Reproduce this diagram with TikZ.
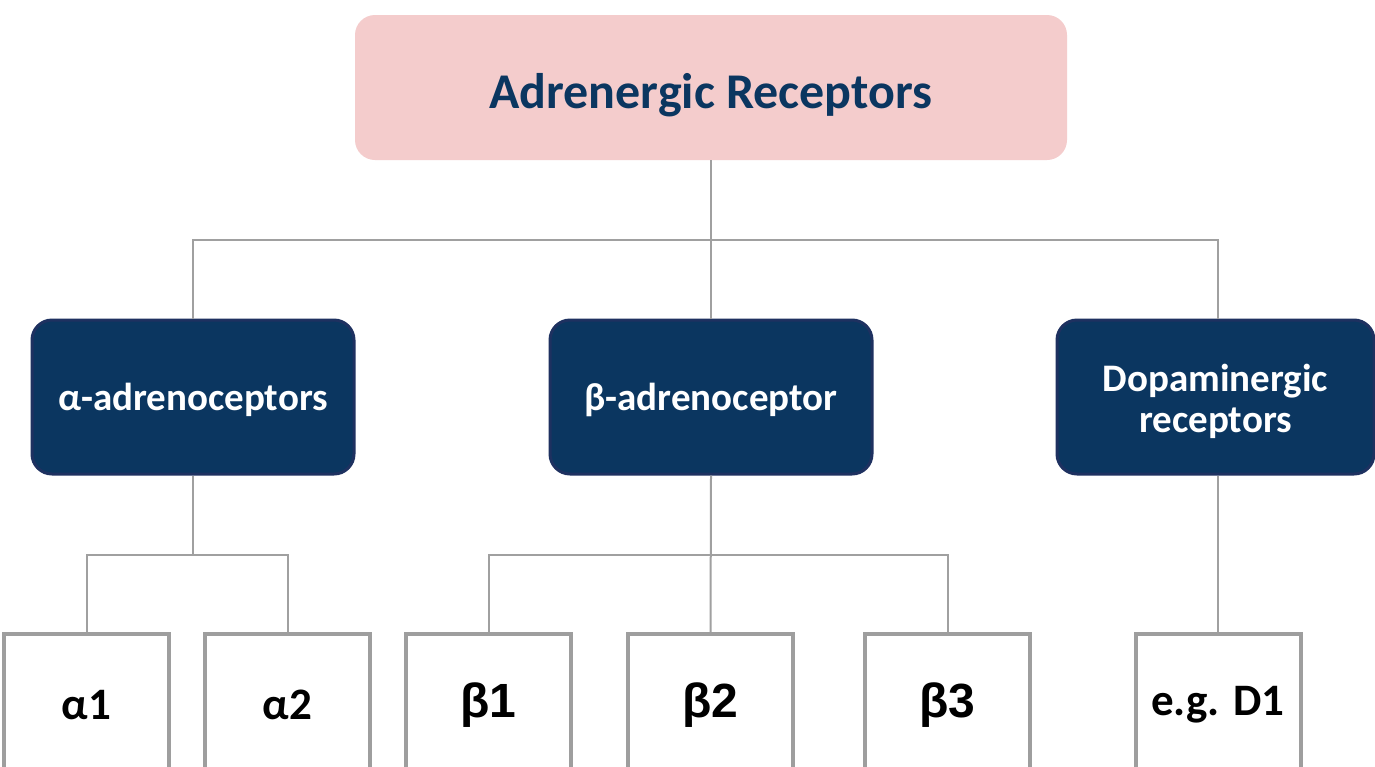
\documentclass[tikz,border=0pt]{standalone}
\usepackage{fontspec}
\setmainfont{Carlito}
\newfontfamily\arialish{Liberation Sans}
\definecolor{navy}{HTML}{0B3660}
\definecolor{navyedge}{HTML}{1E3160}
\definecolor{blush}{HTML}{F4CCCC}
\definecolor{wire}{HTML}{A0A0A0}
\definecolor{frame}{HTML}{9E9E9E}
\tikzset{
  rootbox/.style={rounded corners=10pt, fill=blush, draw=none,
    minimum width=356pt, minimum height=72.5pt,
    text height=20.5pt, text depth=0pt,
    text=navy, font=\fontsize{25}{30}\selectfont\bfseries},
  classbox/.style={rounded corners=10pt, fill=navy, draw=navyedge, line width=1.5pt,
    minimum width=161pt, minimum height=77pt, align=center,
    text=white, font=\fontsize{19.5}{20.5}\selectfont\bfseries},
  classline/.style={classbox, text height=13pt, text depth=0pt},
  leafbox/.style={draw=frame, line width=2pt, fill=white,
    minimum width=82.5pt, minimum height=71pt,
    text=black, font=\fontsize{22.5}{26}\selectfont\bfseries},
  greekleaf/.style={leafbox, font=\arialish\fontsize{24}{28}\selectfont\bfseries},
  conn/.style={draw=wire, line width=1pt},
}
\begin{document}
\begin{tikzpicture}[x=0.5pt, y=-0.5pt]
  \useasboundingbox (0,0) rectangle (1375,766);
  \clip (0,0) rectangle (1375,766);
  \fill[white] (0,0) rectangle (1375,766);

  % root
  \node[rootbox] (root) at (711,87.5) {Adrenergic Receptors};

  % receptor classes
  \node[classline] (alpha) at (193,397) {α-adrenoceptors};
  \node[classline] (beta) at (711,397) {β-adrenoceptor};
  \node[classbox, minimum width=158.5pt] (dopa) at (1215.5,397)
    {\raisebox{-2pt}[\height][\depth]{Dopaminergic}\\\raisebox{-2pt}[\height][\depth]{receptors}};

  % subtypes
  \node[leafbox] (a1) at (86.5,705) {α1};
  \node[leafbox] (a2) at (287.5,705) {α2};
  \node[greekleaf] (b1) at (488.5,705) {β1};
  \node[greekleaf] (b2) at (710.5,705) {β2};
  \node[greekleaf] (b3) at (947.5,705) {β3};
  \node[leafbox] (d1) at (1218,705) {e.g. D1};

  % tree connectors
  \path[conn] (root.south) -- (beta.north);
  \path[conn] (alpha.north) |- (root.south |- 0,240) -| (d1.north |- dopa.north);
  \path[conn] (a1.north) |- (alpha.south |- 0,555) -| (a2.north);
  \path[conn] (alpha.south) -- (alpha.south |- 0,555);
  \path[conn] (b1.north) |- (beta.south |- 0,555) -| (b3.north);
  \path[conn] (beta.south) -- (b2.north);
  \path[conn] (d1.north |- dopa.south) -- (d1.north);
\end{tikzpicture}
\end{document}
